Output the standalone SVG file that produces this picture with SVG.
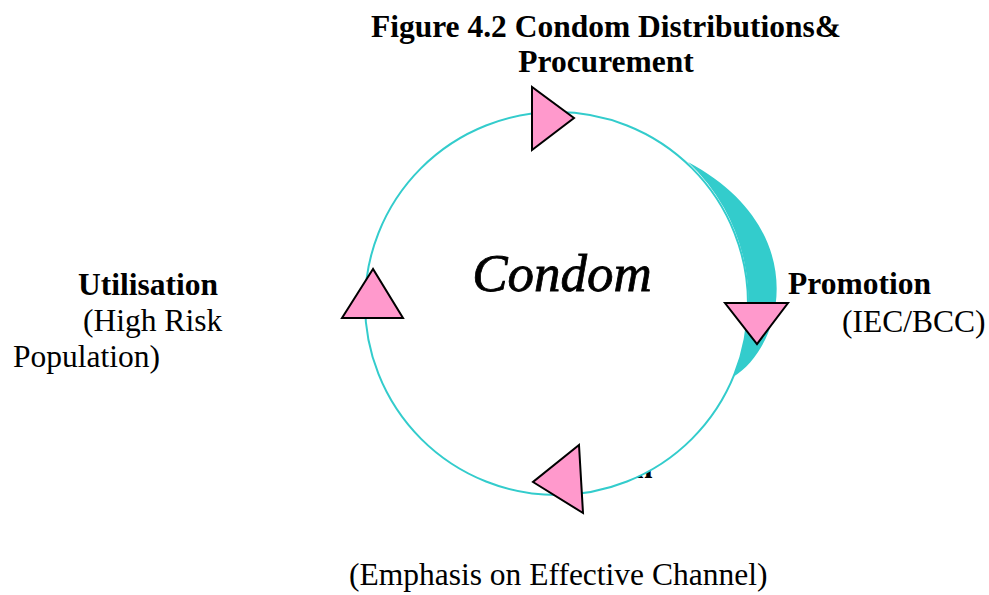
<svg xmlns="http://www.w3.org/2000/svg" width="989" height="595" viewBox="0 0 989 595">
  <style>
    .t { font-family: "Liberation Serif", "Times New Roman", serif; font-size: 31.5px; fill: #000; }
    .b { font-weight: bold; }
    .ring { fill: #fff; stroke: #33CCCC; stroke-width: 2; }
    .sweep { fill: #33CCCC; stroke: none; }
    .tri { fill: #FF99CC; stroke: #000; stroke-width: 2; stroke-linejoin: miter; }
  </style>
  <rect width="989" height="595" fill="#fff"/>

  <!-- title -->
  <g id="title">
    <text class="t b" x="606" y="37" text-anchor="middle">Figure 4.2 Condom Distributions&amp;</text>
    <text class="t b" x="606" y="72" text-anchor="middle">Procurement</text>
  </g>

  <!-- label partly hidden behind the ring -->
  <g id="distribution-label">
    <text class="t b" x="635" y="478">n</text>
  </g>

  <!-- central cycle -->
  <g id="cycle">
    <circle class="ring" cx="556.5" cy="303.5" r="191.5"/>
    <text x="562" y="291" text-anchor="middle" font-family="Liberation Serif, serif" font-style="italic" font-size="53" fill="#000" stroke="#000" stroke-width="0.8">Condom</text>
  </g>

  <!-- connectors: flow sweep and direction markers on the ring -->
  <g id="connectors">
    <path class="sweep" d="M688,162 A191.5,191.5 0 0 1 733,377 C785,345 812,228 688,162 Z"/>
    <polygon class="tri" points="532,87 532,150 574,118"/>
    <polygon class="tri" points="725,303 788,303 757,344"/>
    <polygon class="tri" points="579,445 583,513 533,482"/>
    <polygon class="tri" points="373,269 342,318 403,318"/>
  </g>

  <g id="utilisation">
    <text class="t b" x="78" y="295">Utilisation</text>
    <text class="t" x="83" y="331">(High Risk</text>
    <text class="t" x="13" y="367">Population)</text>
  </g>

  <g id="promotion">
    <text class="t b" x="788" y="294">Promotion</text>
    <text class="t" x="842" y="332">(IEC/BCC)</text>
  </g>

  <g id="channel">
    <text class="t" x="349" y="585">(Emphasis on Effective Channel)</text>
  </g>
</svg>
